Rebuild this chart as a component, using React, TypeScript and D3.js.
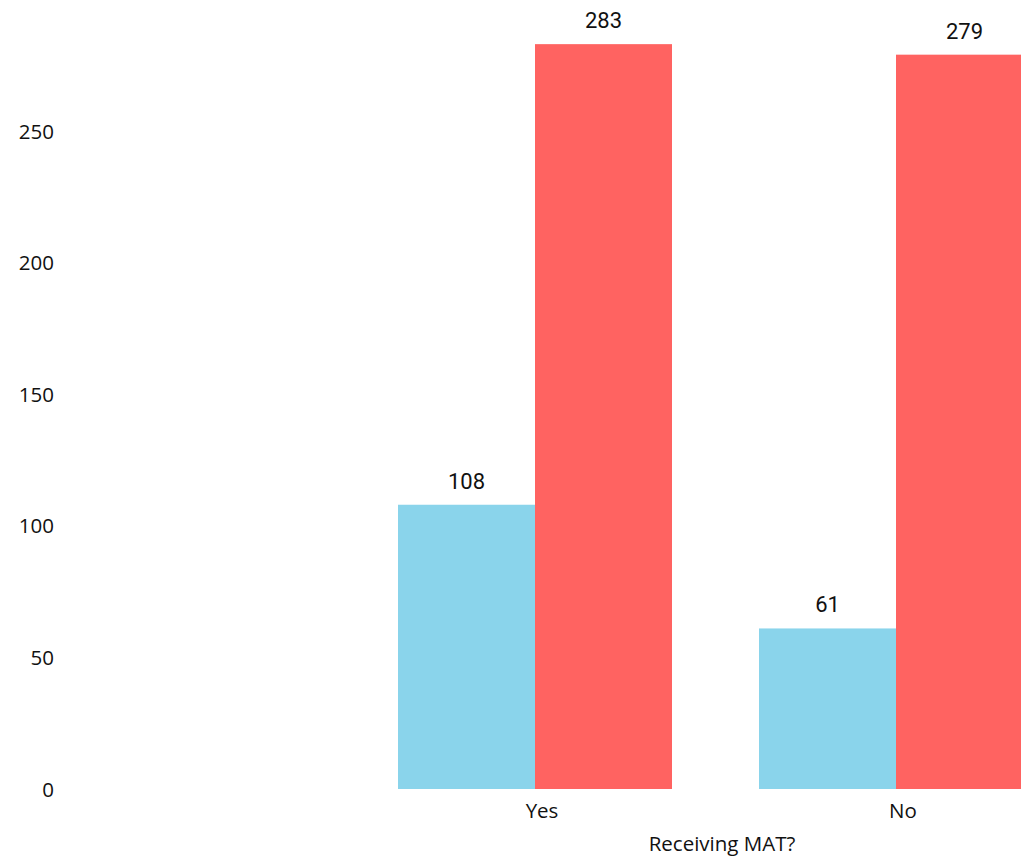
import React from "react";
import * as d3 from "d3";

const categories = ["Yes", "No"];
const seriesKeys = ["blue", "red"];
const blueValues = [108, 61];
const redValues = [283, 279];
const yTicks = [0, 50, 100, 150, 200, 250];
const colors = ["#8AD4EB", "#FF6361"];
const xTitle = "Receiving MAT?";

const W = 1021;
const H = 857;

export default function App() {
  const y = d3.scaleLinear().domain([0, 250]).range([789, 131]);
  const x0 = d3
    .scaleBand<string>()
    .domain(categories)
    .range([354.5, 1076.5])
    .paddingInner(87 / 361)
    .paddingOuter(87 / 722);
  const x1 = d3
    .scaleBand<string>()
    .domain(seriesKeys)
    .range([0, x0.bandwidth()]);
  const series = [blueValues, redValues];
  const tickFont = "'Open Sans', 'Noto Sans', sans-serif";
  const valueFont = "Roboto, 'DejaVu Sans', sans-serif";

  return (
    <svg
      width={W}
      height={H}
      style={{ position: "absolute", left: 0, top: 0, overflow: "hidden", background: "#fff" }}
    >
      {yTicks.map((t) => (
        <text
          key={t}
          x={54}
          y={y(t) + 7.5}
          textAnchor="end"
          fontFamily={tickFont}
          fontSize={20.5}
          fill="#111"
        >
          {t}
        </text>
      ))}
      {categories.map((c, i) => (
        <g key={c} transform={`translate(${x0(c)},0)`}>
          {seriesKeys.map((k, j) => {
            const v = series[j][i];
            const bx = x1(k)!;
            return (
              <g key={k}>
                <rect
                  x={bx}
                  y={y(v)}
                  width={x1.bandwidth()}
                  height={y(0) - y(v)}
                  fill={colors[j]}
                />
                <text
                  x={bx + x1.bandwidth() / 2}
                  y={y(v) - 16}
                  textAnchor="middle"
                  fontFamily={valueFont}
                  fontWeight={400}
                  fontSize={22}
                  fill="#111"
                >
                  {v}
                </text>
              </g>
            );
          })}
          <text
            x={x0.bandwidth() / 2 + 7}
            y={818}
            textAnchor="middle"
            fontFamily={tickFont}
            fontSize={20.5}
            fill="#111"
          >
            {c}
          </text>
        </g>
      ))}
      <text
        x={722}
        y={851}
        textAnchor="middle"
        fontFamily={tickFont}
        fontSize={20.5}
        fill="#111"
      >
        {xTitle}
      </text>
    </svg>
  );
}
